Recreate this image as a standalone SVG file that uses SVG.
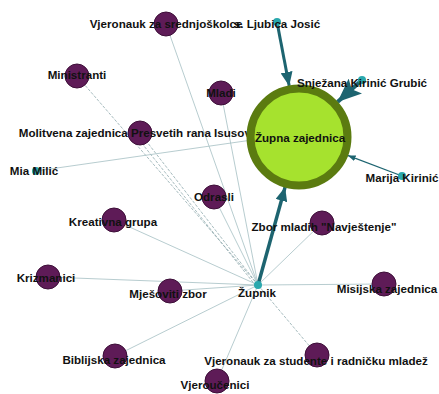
<svg xmlns="http://www.w3.org/2000/svg" width="439" height="394" viewBox="0 0 439 394">
<style>
.t{font-family:"Liberation Sans",Arial,sans-serif;font-weight:bold;font-size:11.6px;fill:#111;text-anchor:middle}
.n{fill:#5e1b57;stroke:#3d0f38;stroke-width:1}
.s{fill:#2aa8ad}
.e{stroke:#a5bfc3;stroke-width:0.8;fill:none}
.d{stroke:#8fa9ad;stroke-width:0.8;fill:none;stroke-dasharray:3 1.5}
.a{stroke:#1d6470;fill:none}
</style>
<defs>
<marker id="ah" markerUnits="userSpaceOnUse" markerWidth="14" markerHeight="12" refX="14" refY="6" orient="auto"><path d="M0,0 L14,6 L0,12 z" fill="#1d6470"/></marker>
<marker id="ahb" markerUnits="userSpaceOnUse" markerWidth="24" markerHeight="20" refX="24" refY="10" orient="auto"><path d="M0,0 L24,10 L0,20 L5,10 z" fill="#1d6470"/></marker>
<marker id="ahs" markerUnits="userSpaceOnUse" markerWidth="8" markerHeight="6" refX="8" refY="3" orient="auto"><path d="M0,0 L8,3 L0,6 z" fill="#1d6470"/></marker>
</defs>
<g id="connectors">
<line class="e" x1="258" y1="285" x2="166" y2="24"/>
<line class="d" x1="258" y1="285" x2="77" y2="76"/>
<line class="e" x1="258" y1="285" x2="221" y2="93"/>
<line class="d" x1="258" y1="285" x2="140" y2="133"/>
<line class="d" x1="256" y1="286" x2="136" y2="136"/>
<line class="e" x1="258" y1="285" x2="214" y2="197"/>
<line class="e" x1="258" y1="285" x2="114" y2="220"/>
<line class="e" x1="258" y1="285" x2="48" y2="277"/>
<line class="e" x1="258" y1="285" x2="170" y2="291"/>
<line class="e" x1="258" y1="285" x2="115" y2="356"/>
<line class="e" x1="258" y1="285" x2="217" y2="381"/>
<line class="d" x1="258" y1="285" x2="317" y2="355"/>
<line class="e" x1="258" y1="285" x2="384" y2="284"/>
<line class="e" x1="258" y1="285" x2="322" y2="223"/>
<line class="e" x1="36" y1="171" x2="252" y2="140"/>
<line class="a" stroke-width="3" x1="277" y1="22" x2="289.2" y2="85.9" marker-end="url(#ah)"/>
<line class="a" stroke-width="4" x1="362" y1="80" x2="337.5" y2="102" marker-end="url(#ahb)"/>
<line class="a" stroke-width="1.2" x1="402" y1="176" x2="347.7" y2="155.4" marker-end="url(#ahs)"/>
<line class="a" stroke-width="3.5" x1="258" y1="285" x2="285.1" y2="187.1" marker-end="url(#ah)"/>
</g>
<g id="n-vjeronauk-sred"><circle class="n" cx="166" cy="24" r="12"/><text class="t" x="166" y="28">Vjeronauk za srednjoškolce</text></g>
<g id="n-ministranti"><circle class="n" cx="77" cy="76" r="12"/><text class="t" x="77" y="79">Ministranti</text></g>
<g id="n-mladi"><circle class="n" cx="221" cy="93" r="12"/><text class="t" x="221" y="97">Mladi</text></g>
<g id="n-molitvena"><circle class="n" cx="140" cy="133" r="12"/><text class="t" x="140" y="137">Molitvena zajednica Presvetih rana Isusovih</text></g>
<g id="n-mia"><circle class="s" cx="36" cy="171" r="4"/><text class="t" x="34" y="175">Mia Milić</text></g>
<g id="n-odrasli"><circle class="n" cx="214" cy="197" r="12"/><text class="t" x="214" y="201">Odrasli</text></g>
<g id="n-kreativna"><circle class="n" cx="114" cy="220" r="12"/><text class="t" x="113" y="226">Kreativna grupa</text></g>
<g id="n-krizmanici"><circle class="n" cx="48" cy="277" r="12"/><text class="t" x="46" y="282">Krizmanici</text></g>
<g id="n-mjesoviti"><circle class="n" cx="170" cy="291" r="12"/><text class="t" x="168" y="298">Mješoviti zbor</text></g>
<g id="n-biblijska"><circle class="n" cx="115" cy="356" r="12"/><text class="t" x="114" y="364">Biblijska zajednica</text></g>
<g id="n-vjeroucenici"><circle class="n" cx="217" cy="381" r="12"/><text class="t" x="215" y="389">Vjeroučenici</text></g>
<g id="n-vjeronauk-stud"><circle class="n" cx="317" cy="355" r="12"/><text class="t" x="316" y="365">Vjeronauk za studente i radničku mladež</text></g>
<g id="n-misijska"><circle class="n" cx="384" cy="284" r="12"/><text class="t" x="387" y="293">Misijska zajednica</text></g>
<g id="n-zbor-mladih"><circle class="n" cx="322" cy="223" r="12"/><text class="t" x="324" y="231">Zbor mladih "Navještenje"</text></g>
<g id="n-zupna"><circle cx="299" cy="137" r="48.5" fill="#a6e22e" stroke="#5b7b10" stroke-width="8"/><text class="t" x="300" y="142">Župna zajednica</text></g>
<g id="n-zupnik"><circle class="s" cx="258" cy="285" r="4"/><text class="t" x="257" y="297">Župnik</text></g>
<g id="n-ljubica"><circle class="s" cx="277" cy="22" r="4"/><text class="t" x="277" y="28">s. Ljubica Josić</text></g>
<g id="n-snjezana"><circle class="s" cx="362" cy="80" r="4"/><text class="t" x="362" y="87">Snježana Kirinić Grubić</text></g>
<g id="n-marija"><circle class="s" cx="402" cy="176" r="4"/><text class="t" x="402" y="182">Marija Kirinić</text></g>
</svg>
